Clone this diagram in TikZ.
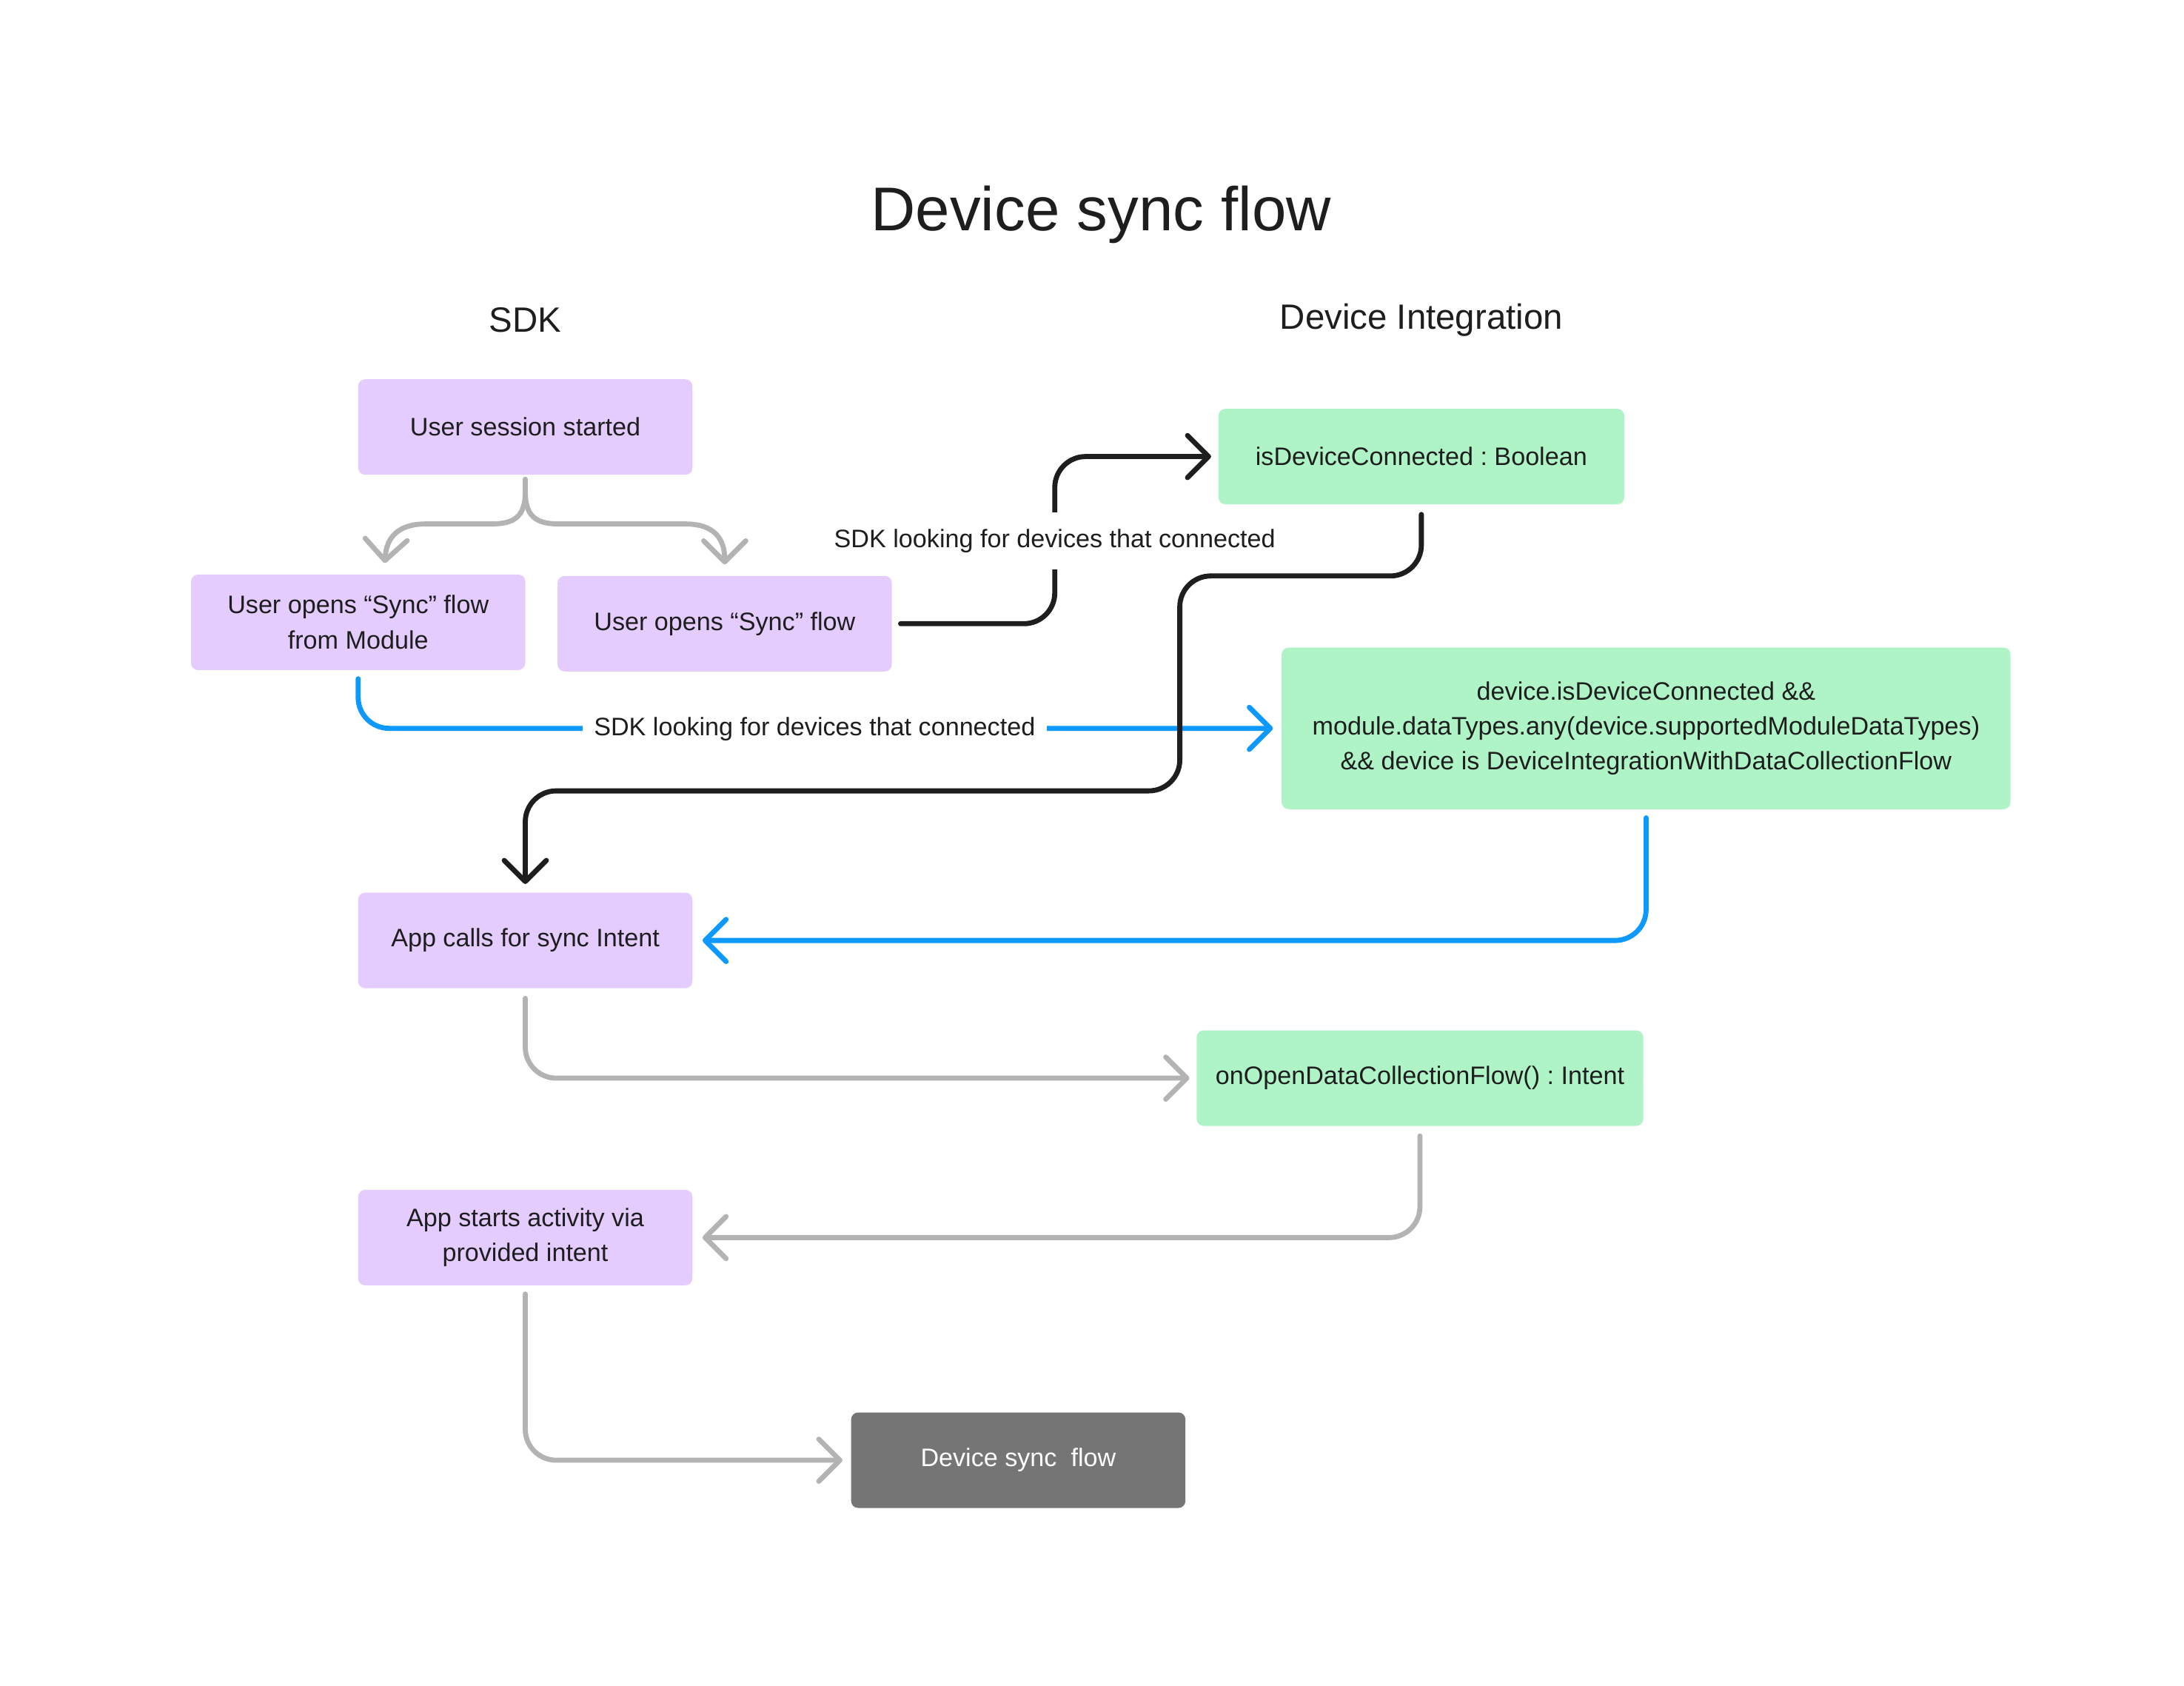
\documentclass[tikz,border=0pt]{standalone}
\usepackage{fontspec}
\setmainfont{Liberation Sans}
\usetikzlibrary{arrows.meta}
\definecolor{lav}{HTML}{E4CCFF}
\definecolor{mint}{HTML}{AFF4C6}
\definecolor{boxgrey}{HTML}{757575}
\definecolor{linegrey}{HTML}{B3B3B3}
\definecolor{ink}{HTML}{1E1E1E}
\definecolor{flowblue}{HTML}{0D99FF}
\frenchspacing
\tikzset{
  box/.style={rectangle, rounded corners=5pt, draw=none, align=center, text=ink,
    font=\fontsize{18pt}{25pt}\selectfont, inner sep=0pt},
  sdkbox/.style={box, fill=lav, minimum width=238pt, minimum height=68pt},
  intbox/.style={box, fill=mint, minimum height=68pt},
  endbox/.style={box, fill=boxgrey, text=white, minimum width=238pt, minimum height=68pt},
  tip/.style={-{Straight Barb[length=15pt,width=30pt,round]}},
  conn/.style={line width=3.6pt, line cap=round, line join=round, rounded corners=22pt, tip, shorten >=6pt},
  greyline/.style={conn, draw=linegrey},
  blackline/.style={conn, draw=ink},
  blueline/.style={conn, draw=flowblue},
  lbl/.style={fill=white, text=ink, font=\fontsize{18pt}{25pt}\selectfont, inner xsep=8pt},
  header/.style={text=ink, font=\fontsize{25pt}{30pt}\selectfont},
}
\begin{document}
\frenchspacing
\begin{tikzpicture}[x=1pt,y=-1pt]
\useasboundingbox (0,0) rectangle (1555,1200);

\node[text=ink, font=\fontsize{44pt}{50pt}\selectfont] (title) at (784,153) {Device sync flow};
\node[header] (hsdk) at (374,228) {SDK};
\node[header] (hint) at (1012,228) {Device Integration};

\node[sdkbox] (b1) at (374,304) {User session started};
\node[sdkbox] (b2) at (255,443) {User opens “Sync” flow\\from Module};
\node[sdkbox] (b3) at (516,444) {User opens “Sync” flow};
\node[intbox, minimum width=289pt] (b4) at (1012,325) {isDeviceConnected : Boolean};
\node[intbox, minimum width=519pt, minimum height=115pt] (b5) at (1172,518.5)
  {device.isDeviceConnected \&\&\\module.dataTypes.any(device.supportedModuleDataTypes)\\\&\& device is DeviceIntegrationWithDataCollectionFlow};
\node[sdkbox] (b6) at (374,669.5) {App calls for sync Intent};
\node[intbox, minimum width=318pt] (b7) at (1011,767.5) {onOpenDataCollectionFlow() : Intent};
\node[sdkbox] (b8) at (374,881) {App starts activity via\\provided intent};
\node[endbox] (b9) at (725,1039.5) {Device sync\ \ flow};

% brace split from session start
\draw[greyline, rounded corners=0pt, shorten >=0pt] ([yshift=-3pt]b1.south) -- (374,350)
  .. controls (374,367) and (367,373) .. (350,373) -- (303,373)
  .. controls (283,373) and (275,383) .. ([xshift=19pt,yshift=8pt]b2.north);
\draw[greyline, rounded corners=0pt, shorten >=0pt] ([yshift=-3pt]b1.south) -- (374,350)
  .. controls (374,367) and (381,373) .. (398,373) -- (488,373)
  .. controls (508,373) and (516,383) .. ([yshift=8pt]b3.north);

% blue: from module flow to condition box
\draw[blueline] ([yshift=-6pt]b2.south) -- (255,518.5) -- (b5.west);
\node[lbl] (l2) at (580,519) {SDK looking for devices that connected};

% black: sync flow -> isDeviceConnected
\draw[blackline, shorten >=5pt] ([xshift=6pt]b3.east) -- (751,444) -- (751,325) -- (b4.west);
\node[lbl, inner ysep=12pt] (l1) at (751,385) {SDK looking for devices that connected};

% black: isDeviceConnected -> App calls
\draw[blackline] ([yshift=-7pt]b4.south) -- (1012,410) -- (840,410) -- (840,563) -- (374,563) -- (b6.north);

% blue: condition box -> App calls
\draw[blueline, shorten >=7pt] ([yshift=-6pt]b5.south) -- (1172,669.5) -- (b6.east);

% grey flow
\draw[greyline, shorten >=5pt] ([yshift=-7pt]b6.south) -- (374,767.5) -- (b7.west);
\draw[greyline, shorten >=7pt] ([yshift=-7pt]b7.south) -- (1011,881) -- (b8.east);
\draw[greyline] ([yshift=-6pt]b8.south) -- (374,1039.5) -- (b9.west);
\end{tikzpicture}
\end{document}
